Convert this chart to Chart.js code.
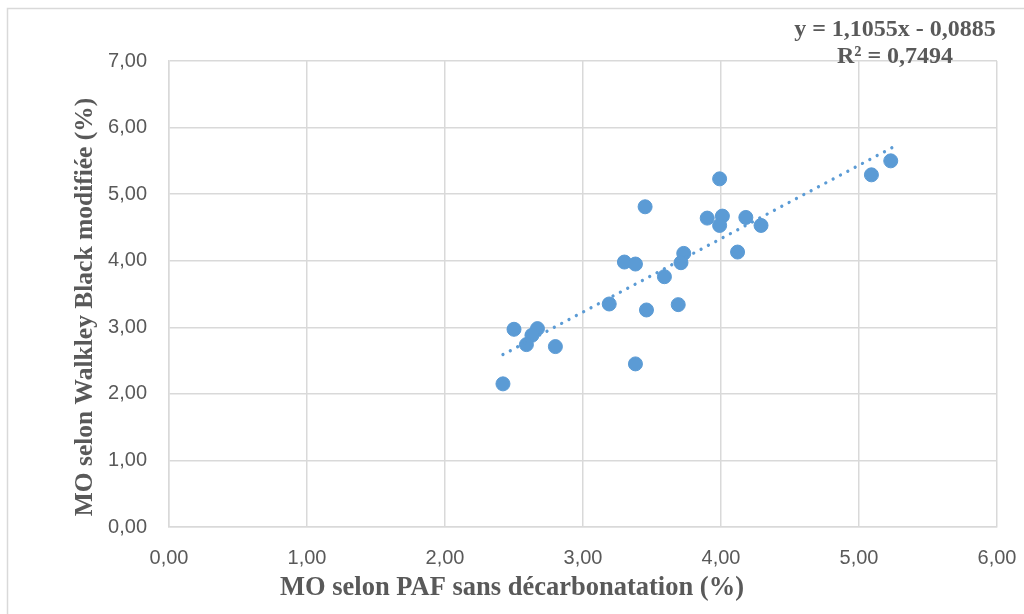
<!DOCTYPE html>
<html>
<head>
<meta charset="utf-8">
<script src="https://cdn.jsdelivr.net/npm/chart.js@4/dist/chart.umd.min.js"></script>
<style>
  html, body { margin: 0; padding: 0; background: #fff; }
  #wrap { width: 1024px; height: 614px; }
</style>
</head>
<body>
<div id="wrap"><canvas id="chart" width="1024" height="614"></canvas></div>
<script>
"use strict";

// MO selon PAF (x) vs MO selon Walkley Black modifiée (y)
const paf = [3.99, 3.45, 3.90, 4.01, 3.99, 4.18, 4.29, 4.12, 3.73, 3.71, 3.30, 3.38, 3.59,
  3.19, 3.46, 3.69, 2.50, 2.67, 2.63, 2.59, 2.80, 3.38, 2.42, 5.09, 5.23];
const walkley = [5.23, 4.81, 4.64, 4.67, 4.53, 4.65, 4.53, 4.13, 4.11, 3.97, 3.98, 3.95, 3.76,
  3.35, 3.26, 3.34, 2.97, 2.98, 2.88, 2.74, 2.71, 2.45, 2.15, 5.29, 5.50];

// linear trendline end points
const trendX = [2.42, 5.25];
const trendY = [2.59, 5.71];
const equationLines = ["y = 1,1055x - 0,0885", "R\u00b2 = 0,7494"];

const xTitle = "MO selon PAF sans décarbonatation (%)";
const yTitle = "MO selon Walkley Black modifiée (%)";

const BLUE = "#5b9bd5";
const GRID = "#d9d9d9";
const TEXT = "#595959";
const SERIF = "'Liberation Serif', 'Times New Roman', serif";
const fmtTick = (v) => v.toFixed(2).replace(".", ",");

// Excel centres the axis titles on the whole chart, not on the plot area,
// so they are drawn here rather than through the scale title option.
const frame = {
  id: "frame",
  beforeDraw(chart) {
    const c = chart.ctx;
    c.save();
    c.fillStyle = "#fff";
    c.fillRect(0, 0, chart.width, chart.height);
    c.strokeStyle = GRID;
    c.lineWidth = 1.5;
    c.beginPath();
    c.moveTo(7.5, chart.height);
    c.lineTo(7.5, 8.5);
    c.lineTo(chart.width, 8.5);
    c.stroke();
    c.restore();
  },
  afterDraw(chart) {
    const c = chart.ctx;
    const a = chart.chartArea;
    c.save();
    c.fillStyle = TEXT;
    c.textAlign = "center";

    c.font = "bold 24px " + SERIF;
    c.textBaseline = "alphabetic";
    c.fillText(equationLines[0], a.right - 102, a.top - 25);
    c.fillText(equationLines[1], a.right - 102, a.top + 2);

    c.textBaseline = "middle";
    c.font = "bold 26.5px " + SERIF;
    c.fillText(xTitle, chart.width / 2, 588);

    c.translate(85, chart.height / 2);
    c.rotate(-Math.PI / 2);
    c.font = "bold 25.5px " + SERIF;
    c.fillText(yTitle, 0, 0);
    c.restore();
  },
};

const points = paf.map((x, i) => ({ x, y: walkley[i] }));
const trend = trendX.map((x, i) => ({ x, y: trendY[i] }));

new Chart(document.getElementById("chart"), {
  type: "scatter",
  data: {
    datasets: [
      { label: "MO", data: points, backgroundColor: BLUE, borderColor: BLUE, borderWidth: 1, pointRadius: 7, order: 2 },
      {
        label: "Linéaire",
        data: trend,
        showLine: true,
        pointRadius: 0,
        borderColor: BLUE,
        borderWidth: 3.3,
        borderDash: [0.01, 8.3],
        borderCapStyle: "round",
        fill: false,
        order: 1,
      },
    ],
  },
  options: {
    responsive: false,
    animation: false,
    layout: { padding: { left: 0, top: 61, right: 27, bottom: 0 } },
    plugins: { legend: { display: false }, tooltip: { enabled: false } },
    scales: {
      x: {
        type: "linear",
        min: 0,
        max: 6,
        afterFit: (s) => { s.height = 87; s.paddingLeft = 0; s.paddingRight = 0; },
        ticks: { stepSize: 1, color: TEXT, padding: 19, font: { family: "'Liberation Sans', Arial, sans-serif", size: 20 }, callback: fmtTick },
        grid: { color: GRID, lineWidth: 1.5, drawTicks: false },
        border: { color: GRID, width: 1.5 },
      },
      y: {
        type: "linear",
        min: 0,
        max: 7,
        afterFit: (s) => { s.width = 169; },
        ticks: { stepSize: 1, color: TEXT, padding: 22, font: { family: "'Liberation Sans', Arial, sans-serif", size: 20 }, callback: fmtTick },
        grid: { color: GRID, lineWidth: 1.5, drawTicks: false },
        border: { color: GRID, width: 1.5 },
      },
    },
  },
  plugins: [frame],
});
</script>
</body>
</html>
